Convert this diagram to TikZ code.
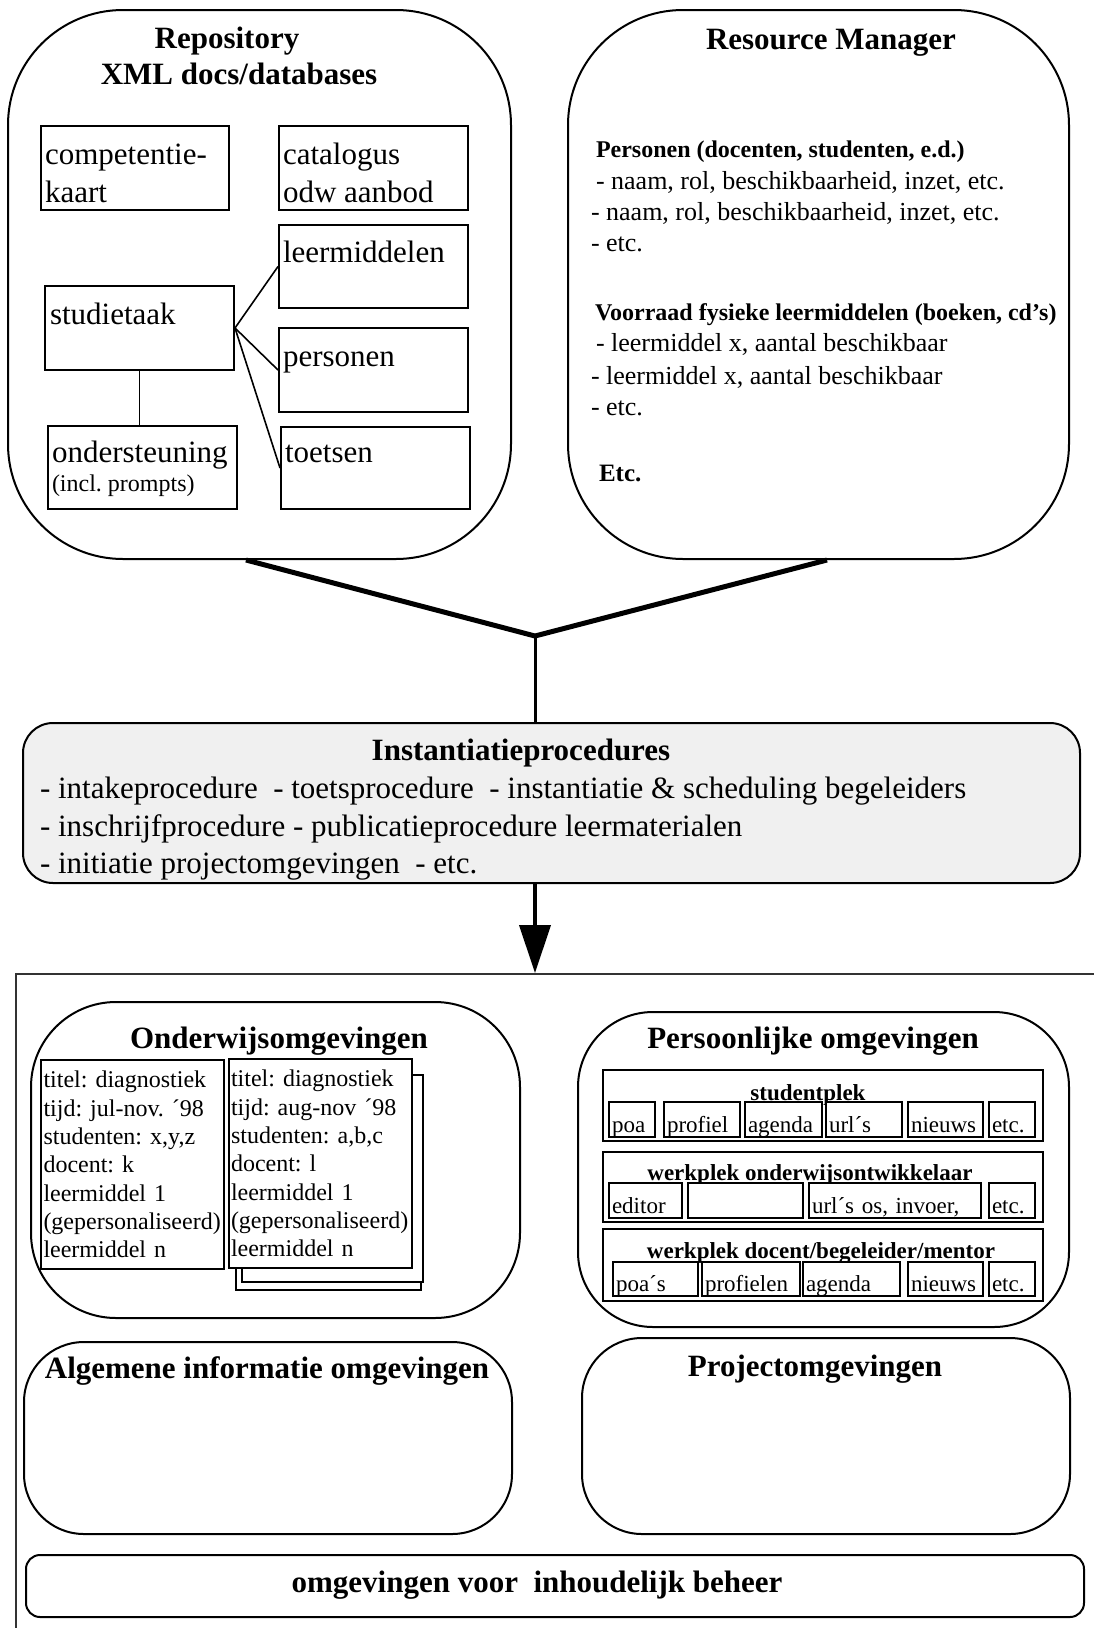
\documentclass[tikz,border=0pt]{standalone}
\usepackage{fontspec}
\setmainfont{Liberation Serif}
\usepackage{tikz}
\usetikzlibrary{arrows.meta, positioning}
\frenchspacing
\newcommand{\bigbf}{\fontsize{31}{37}\selectfont\bfseries}
\newcommand{\bigrm}{\fontsize{31}{37.5}\selectfont}
\newcommand{\midrm}{\fontsize{26}{31}\selectfont}
\newcommand{\midbf}{\fontsize{24}{29}\selectfont\bfseries}
\newcommand{\smrm}{\fontsize{24}{29}\selectfont}
\newcommand{\cardrm}{\fontsize{24}{28.3}\selectfont}
\newcommand{\cellrm}{\fontsize{23}{27}\selectfont}
\newcommand{\cellbf}{\fontsize{23}{27}\selectfont\bfseries}

\begin{document}
\begin{tikzpicture}[x=1pt, y=-1pt, line width=2pt,
    panel/.style={draw, rounded corners=#1, inner sep=0pt},
    box/.style={draw, fill=white, inner sep=0pt},
    txt/.style={anchor=base west, inner sep=0pt},
    ctxt/.style={anchor=base, inner sep=0pt},
    card/.style={draw, fill=white, inner xsep=2.5pt, inner ysep=0pt, text width=178pt,
        minimum height=209pt, align=left, font=\cardrm},
    cell/.style={draw, fill=white, line width=1.8pt, inner xsep=3pt, inner ysep=0pt,
        minimum height=35pt, text height=25pt, text depth=0pt, align=left, font=\cellrm},
    vline/.style={line width=5pt}]

    \path[use as bounding box, fill=white] (0,0) rectangle (1093,1628);

    % Repository
    \node[panel=115pt, minimum width=503pt, minimum height=549pt] (repo) at (259.5,284.5) {};
    \node[ctxt, font=\bigbf] (repotitle) at (227,48) {Repository};
    \node[ctxt, font=\bigbf] (reposub) at (239,84) {XML docs/databases};

    \node[box, minimum width=188pt, minimum height=84pt] (kaart) at (135,168) {};
    \node[txt, font=\bigrm] (kaart1) at (44,164) {competentie-};
    \node[txt, font=\bigrm] (kaart2) at (44,202) {kaart};
    \node[box, minimum width=189pt, minimum height=84pt] (catalogus) at (373.5,168) {};
    \node[txt, font=\bigrm] (cat1) at (282,164) {catalogus};
    \node[txt, font=\bigrm] (cat2) at (282,202) {odw aanbod};
    \node[box, minimum width=189pt, minimum height=83pt] (leermid) at (373.5,266.5) {};
    \node[txt, font=\bigrm] (leermidtxt) at (282,262) {leermiddelen};
    \node[box, minimum width=189pt, minimum height=84pt] (studietaak) at (139.5,328) {};
    \node[txt, font=\bigrm] (studtxt) at (49,324) {studietaak};
    \node[box, minimum width=189pt, minimum height=84pt] (personen) at (373.5,370) {};
    \node[txt, font=\bigrm] (perstxt) at (282,366) {personen};
    \node[box, minimum width=189pt, minimum height=83pt] (onderst) at (142.5,467.5) {};
    \node[txt, font=\bigrm] (ondtxt) at (51,462) {ondersteuning};
    \node[txt, font=\smrm] (ondsub) at (51,491) {(incl. prompts)};
    \node[box, minimum width=189pt, minimum height=82pt] (toetsen) at (375.5,468) {};
    \node[txt, font=\bigrm] (toetstxt) at (284,462) {toetsen};

    \draw[line width=1.6pt] (studietaak.east) -- (leermid.west);
    \draw[line width=1.6pt] (studietaak.east) -- (personen.west);
    \draw[line width=1.6pt] (studietaak.east) -- (toetsen.west);
    \draw[line width=1.6pt] (studietaak.south) -- (studietaak.south |- onderst.north);

    % Resource Manager
    \node[panel=115pt, minimum width=501pt, minimum height=549pt] (rm) at (818.5,284.5) {};
    \node[ctxt, font=\bigbf] (rmtitle) at (831,49) {Resource Manager};
    \node[txt, font=\midbf] (rm1) at (595,157) {Personen (docenten, studenten, e.d.)};
    \node[txt, font=\midrm] (rm2) at (595,189) {- naam, rol, beschikbaarheid, inzet, etc.};
    \node[txt, font=\midrm] (rm3) at (590,220) {- naam, rol, beschikbaarheid, inzet, etc.};
    \node[txt, font=\midrm] (rm4) at (590,251) {- etc.};
    \node[txt, font=\midbf] (rm5) at (594,320) {Voorraad fysieke leermiddelen (boeken, cd’s)};
    \node[txt, font=\midrm] (rm6) at (595,351) {- leermiddel x, aantal beschikbaar};
    \node[txt, font=\midrm] (rm7) at (590,384) {- leermiddel x, aantal beschikbaar};
    \node[txt, font=\midrm] (rm8) at (590,415) {- etc.};
    \node[txt, font=\fontsize{25}{30}\selectfont\bfseries] (rm9) at (598,481) {Etc.};

    % Instantiatieprocedures
    \node[panel=30pt, fill=black!6, minimum width=1057pt, minimum height=160pt] (inst) at (551.5,803) {};
    \node[ctxt, font=\bigbf] (insttitle) at (521,760) {Instantiatieprocedures};
    \node[txt, font=\bigrm] (inst1) at (39,798) {- intakeprocedure~ - toetsprocedure~ - instantiatie \& scheduling begeleiders};
    \node[txt, font=\bigrm] (inst2) at (39,836) {- inschrijfprocedure - publicatieprocedure leermaterialen};
    \node[txt, font=\bigrm] (inst3) at (39,873) {- initiatie projectomgevingen~ - etc.};

    % omgevingen
    \node[draw=black!80, minimum width=1200pt, minimum height=800pt, anchor=north west, inner sep=0pt] (frame) at (15,973) {};

    \coordinate (join) at (535,636);
    \draw[vline] ([xshift=-13.5pt]repo.south) -- (join) -- ([xshift=8.5pt]rm.south);
    \draw[line width=3pt] (join) -- (join |- inst.north);
    \draw[line width=4pt, -{Triangle[length=48pt, width=31pt]}] (join |- inst.south) -- (join |- frame.north);

    % Onderwijsomgevingen
    \node[panel=85pt, minimum width=489pt, minimum height=316pt] (onderwijs) at (275.5,1160) {};
    \node[ctxt, font=\bigbf] (ondtitle) at (279,1048) {Onderwijsomgevingen};
    \node[card] (card1) at (132.5,1164.5) {titel: diagnostiek\\tijd: jul-nov. ´98\\studenten: x,y,z\\docent: k\\leermiddel 1\\(gepersonaliseerd)\\leermiddel n};
    \node[box, minimum width=185pt, minimum height=195pt] (sheetB) at (328.5,1192.5) {};
    \node[box, minimum width=181pt, minimum height=207pt] (sheetA) at (332.5,1178.5) {};
    \node[card] (card2) at (320,1163.5) {titel: diagnostiek\\tijd: aug-nov ´98\\studenten: a,b,c\\docent: l\\leermiddel 1\\(gepersonaliseerd)\\leermiddel n};

    % Persoonlijke omgevingen
    \node[panel=75pt, minimum width=491pt, minimum height=315pt] (persoonlijk) at (823.5,1169.5) {};
    \node[ctxt, font=\bigbf] (perstitle) at (813,1048) {Persoonlijke omgevingen};

    \node[box, line width=1.8pt, minimum width=440pt, minimum height=71pt] (row1) at (823,1105.5) {};
    \node[ctxt, font=\cellbf] (lab1) at (808,1100) {studentplek};
    \node[cell, text width=40pt] (poa) at (632,1119.5) {poa};
    \node[cell, text width=70pt] (profiel) at (702,1119.5) {profiel};
    \node[cell, text width=71pt] (agenda1) at (783.5,1119.5) {agenda};
    \node[cell, text width=70pt] (urls1) at (864,1119.5) {url´s};
    \node[cell, text width=69pt] (nieuws1) at (945.5,1119.5) {nieuws};
    \node[cell, text width=40pt] (etc1) at (1012,1119.5) {etc.};

    \node[box, line width=1.8pt, minimum width=440pt, minimum height=70pt] (row2) at (823,1187) {};
    \node[ctxt, font=\cellbf] (lab2) at (810,1180) {werkplek onderwijsontwikkelaar};
    \node[cell, text width=67pt] (editor) at (645.5,1200.5) {editor};
    \node[cell, text width=109pt] (leeg) at (745.5,1200.5) {};
    \node[cell, text width=166pt] (urls2) at (895,1200.5) {url´s os, invoer,};
    \node[cell, text width=40pt] (etc2) at (1012,1200.5) {etc.};

    \node[box, line width=1.8pt, minimum width=440pt, minimum height=72pt] (row3) at (823,1265) {};
    \node[ctxt, font=\cellbf] (lab3) at (821,1258) {werkplek docent/begeleider/mentor};
    \node[cell, minimum height=34pt, text width=79pt] (poas) at (655.5,1279) {poa´s};
    \node[cell, minimum height=34pt, text width=92pt] (profielen) at (751,1279) {profielen};
    \node[cell, minimum height=34pt, text width=91pt] (agenda3) at (851.5,1279) {agenda};
    \node[cell, minimum height=34pt, text width=69pt] (nieuws3) at (945.5,1279) {nieuws};
    \node[cell, minimum height=34pt, text width=40pt] (etc3) at (1012,1279) {etc.};

    % Algemene informatie / Project
    \node[panel=60pt, minimum width=488pt, minimum height=192pt] (algemeen) at (268,1438) {};
    \node[ctxt, font=\bigbf] (algtitle) at (267,1378) {Algemene informatie omgevingen};
    \node[panel=60pt, minimum width=488pt, minimum height=196pt] (project) at (826,1436) {};
    \node[ctxt, font=\bigbf] (projtitle) at (815,1376) {Projectomgevingen};

    % beheer
    \node[panel=14pt, minimum width=1058pt, minimum height=62pt] (beheer) at (555,1586) {};
    \node[ctxt, font=\bigbf] (behtxt) at (537,1592) {omgevingen voor~ inhoudelijk beheer};
\end{tikzpicture}
\end{document}
